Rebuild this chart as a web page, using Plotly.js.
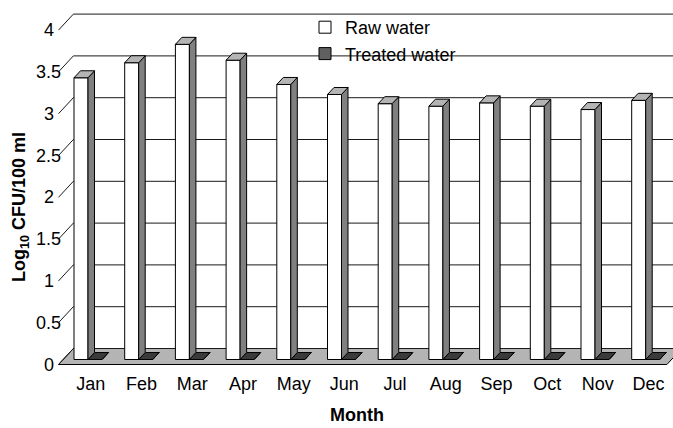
<!DOCTYPE html>
<html>
<head>
<meta charset="utf-8">
<script src="https://cdn.plot.ly/plotly-3.0.1.min.js"></script>
<style>html,body{margin:0;padding:0;background:#fff;}#chart{width:673px;height:428px;}</style>
</head>
<body>
<div id="chart"></div>
<script>
// ---- data ----
const months = ['Jan','Feb','Mar','Apr','May','Jun','Jul','Aug','Sep','Oct','Nov','Dec'];
const rawWater = [3.37, 3.55, 3.77, 3.58, 3.29, 3.17, 3.06, 3.03, 3.07, 3.03, 2.99, 3.10];
const treatedWater = [0, 0, 0, 0, 0, 0, 0, 0, 0, 0, 0, 0];
const yTickVals = [0, 0.5, 1, 1.5, 2, 2.5, 3, 3.5, 4];
const yTickText = ['0', '0.5', '1', '1.5', '2', '2.5', '3', '3.5', '4'];
const seriesNames = ['Raw water', 'Treated water'];

// ---- pseudo-3D geometry (pixels) ----
const W = 673, H = 428;
const mL = 55, mR = 0, mT = 5, mB = 60;
const frontLeftPx = 58.5;      // front-left floor corner x
const zeroPx = 364.5;          // front plane value 0 y
const catPx = 50.7;            // pixels per category
const unitPx = 83.6;           // pixels per value unit
const plotW = W - mL - mR, plotH = H - mT - mB;
const xMin = -0.5 - (frontLeftPx - mL) / catPx;
const xMax = xMin + plotW / catPx;
const yMin = -((H - mB) - zeroPx) / unitPx;
const yMax = yMin + plotH / unitPx;
const DX = 0.93;               // x shift per depth px
const wallDepth = 16, barFront = 5, barBack = 12;
const barW = 14;               // bar width px

function P(i, px, v, d) {
  return [i + (px + DX * d) / catPx, v + d / unitPx];
}
function poly(pts) {
  return 'M' + pts.map(p => p[0].toFixed(5) + ',' + p[1].toFixed(5)).join('L') + 'Z';
}

const shapes = [];
// floor
shapes.push({type:'path', xref:'x', yref:'y', layer:'below',
  path: poly([P(-0.5,0,0,0), P(11.5,0,0,0), P(11.5,0,0,wallDepth), P(-0.5,0,0,wallDepth)]),
  fillcolor:'#b4b4b4', line:{color:'#000', width:1}});
// back-wall gridlines and side-wall ticks
yTickVals.forEach(v => {
  const a = P(-0.5, 0, v, wallDepth);
  shapes.push({type:'line', xref:'x', yref:'y', layer:'below',
    x0:a[0], y0:a[1], x1:xMax, y1:a[1], line:{color:'#1a1a1a', width:1}});
  const f = P(-0.5, 0, v, 0);
  shapes.push({type:'line', xref:'x', yref:'y', layer:'below',
    x0:f[0], y0:f[1], x1:a[0], y1:a[1], line:{color:'#1a1a1a', width:1}});
});
// bar faces
months.forEach((m, i) => {
  // treated: x from -0.5 to +barW relative to centre
  const tv = treatedWater[i];
  shapes.push({type:'path', xref:'x', yref:'y', layer:'above',
    path: poly([P(i,-0.5+barW,0,barFront), P(i,-0.5+barW,0,barBack), P(i,-0.5+barW,tv,barBack), P(i,-0.5+barW,tv,barFront)]),
    fillcolor:'#555', line:{color:'#000', width:1}});
  shapes.push({type:'path', xref:'x', yref:'y', layer:'above',
    path: poly([P(i,-0.5,tv,barFront), P(i,-0.5+barW,tv,barFront), P(i,-0.5+barW,tv,barBack), P(i,-0.5,tv,barBack)]),
    fillcolor:'#3a3a3a', line:{color:'#000', width:1}});
  // raw: x from -14.5 to -0.5
  const rv = rawWater[i];
  shapes.push({type:'path', xref:'x', yref:'y', layer:'above',
    path: poly([P(i,-0.5,0,barFront), P(i,-0.5,0,barBack), P(i,-0.5,rv,barBack), P(i,-0.5,rv,barFront)]),
    fillcolor:'#808080', line:{color:'#000', width:1}});
  shapes.push({type:'path', xref:'x', yref:'y', layer:'above',
    path: poly([P(i,-0.5-barW,rv,barFront), P(i,-0.5,rv,barFront), P(i,-0.5,rv,barBack), P(i,-0.5-barW,rv,barBack)]),
    fillcolor:'#b4b4b4', line:{color:'#000', width:1}});
});

const xIdx = months.map((m, i) => i);
const base0 = barFront / unitPx;
const traces = [
  {type:'bar', name:seriesNames[0], x:xIdx, y:rawWater, base:base0,
   width: barW / catPx, offset: (-0.5 - barW + DX * barFront) / catPx,
   marker:{color:'#ffffff', line:{color:'#000', width:1}}, hoverinfo:'y'},
  {type:'bar', name:seriesNames[1], x:xIdx, y:treatedWater, base:base0,
   width: barW / catPx, offset: (-0.5 + DX * barFront) / catPx,
   marker:{color:'#606060', line:{color:'#000', width:1}}, hoverinfo:'y'}
];

const font = 'Liberation Sans, Arial, sans-serif';
const px2paperX = px => (px - mL) / plotW;
const px2paperY = py => ((H - mB) - py) / plotH;

const annotations = yTickVals.map((v, k) => ({
  xref:'paper', yref:'y', x: px2paperX(48.5), y: v, text: yTickText[k],
  showarrow:false, xanchor:'center', yanchor:'middle', font:{size:18, color:'#000', family:font}
}));
annotations.push({xref:'paper', yref:'paper', x:px2paperX(357), y:px2paperY(427),
  text:'<b>Month</b>', showarrow:false, xanchor:'center', yanchor:'bottom',
  font:{size:18, color:'#000', family:font}});
annotations.push({xref:'paper', yref:'paper', x:px2paperX(20), y:px2paperY(207),
  text:'<b>Log<sub>10</sub> CFU/100 ml</b>', textangle:-90, showarrow:false,
  xanchor:'center', yanchor:'middle', font:{size:18, color:'#000', family:font}});

const layout = {
  width:W, height:H, margin:{l:mL, r:mR, t:mT, b:mB, pad:0},
  paper_bgcolor:'#fff', plot_bgcolor:'rgba(0,0,0,0)',
  font:{family:font, size:18, color:'#000'},
  barmode:'overlay', bargap:0,
  xaxis:{range:[xMin, xMax], tickmode:'array', tickvals:xIdx, ticktext:months,
    showgrid:false, zeroline:false, showline:false, ticks:'', ticklabelshift:7,
    ticklabelstandoff:3, tickfont:{size:18, family:font, color:'#000'}, fixedrange:true},
  yaxis:{range:[yMin, yMax], showgrid:false, zeroline:false, showline:false,
    showticklabels:false, ticks:'', fixedrange:true},
  showlegend:true,
  legend:{x:px2paperX(305), y:px2paperY(9), xanchor:'left', yanchor:'top',
    bgcolor:'rgba(0,0,0,0)', borderwidth:0, font:{size:18, family:font, color:'#000'},
    tracegroupgap:0},
  shapes:shapes, annotations:annotations
};

Plotly.newPlot('chart', traces, layout, {displayModeBar:false, staticPlot:true});
</script>
</body>
</html>
